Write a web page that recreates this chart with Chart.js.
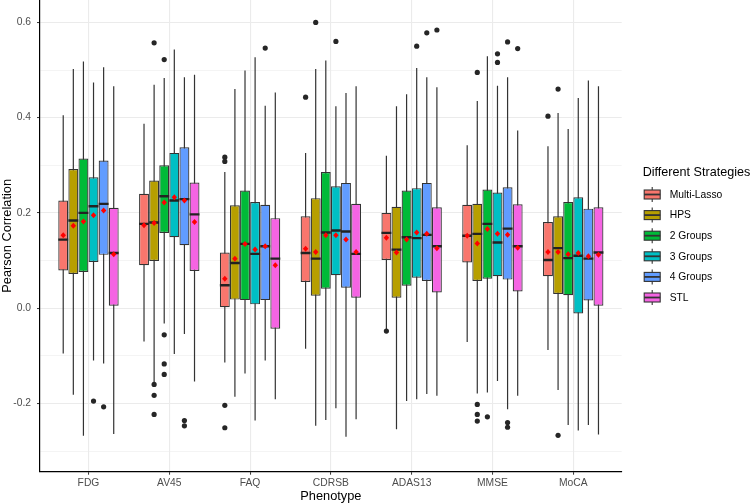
<!DOCTYPE html>
<html>
<head>
<meta charset="utf-8">
<script src="https://cdn.jsdelivr.net/npm/chart.js@4.4.1/dist/chart.umd.min.js"></script>
<style>
  html, body { margin: 0; padding: 0; background: #fff; }
</style>
</head>
<body>
<canvas id="chart" width="754" height="504"></canvas>
<script>
const phenotypes = ['FDG', 'AV45', 'FAQ', 'CDRSB', 'ADAS13', 'MMSE', 'MoCA']
const strategies = ['Multi-Lasso', 'HPS', '2 Groups', '3 Groups', '4 Groups', 'STL']
const colors = ['#F8766D', '#B79F00', '#00BA38', '#00BFC4', '#619CFF', '#F564E3']

// one row per strategy, one value per phenotype
const q1 = [
    [0.079, 0.090, 0.002, 0.055, 0.101, 0.096, 0.067],
    [0.072, 0.099, 0.018, 0.026, 0.022, 0.057, 0.030],
    [0.076, 0.158, 0.017, 0.041, 0.047, 0.062, 0.027],
    [0.097, 0.149, 0.008, 0.069, 0.064, 0.067, -0.011],
    [0.112, 0.132, 0.017, 0.043, 0.057, 0.060, 0.016],
    [0.005, 0.078, -0.043, 0.022, 0.033, 0.035, 0.005]
]
const medians = [
    [0.144, 0.177, 0.048, 0.116, 0.158, 0.152, 0.101],
    [0.184, 0.180, 0.095, 0.104, 0.123, 0.156, 0.126],
    [0.200, 0.235, 0.135, 0.159, 0.149, 0.177, 0.105],
    [0.214, 0.226, 0.114, 0.163, 0.147, 0.138, 0.110],
    [0.219, 0.229, 0.130, 0.161, 0.154, 0.167, 0.104],
    [0.116, 0.197, 0.104, 0.114, 0.130, 0.130, 0.117]
]
const q3 = [
    [0.226, 0.240, 0.117, 0.193, 0.200, 0.217, 0.181],
    [0.292, 0.268, 0.216, 0.231, 0.213, 0.219, 0.193],
    [0.314, 0.300, 0.247, 0.286, 0.247, 0.249, 0.223],
    [0.275, 0.326, 0.223, 0.256, 0.252, 0.243, 0.233],
    [0.310, 0.338, 0.217, 0.263, 0.263, 0.254, 0.209],
    [0.211, 0.264, 0.189, 0.219, 0.212, 0.218, 0.212]
]
const lowerWhisker = [
    [-0.095, -0.070, -0.114, -0.085, -0.044, -0.071, -0.088],
    [-0.182, -0.155, -0.186, -0.247, -0.254, -0.179, -0.172],
    [-0.268, -0.032, -0.137, -0.235, -0.195, -0.177, -0.245],
    [-0.110, -0.096, -0.236, -0.210, -0.191, -0.153, -0.257],
    [-0.116, -0.054, -0.110, -0.270, -0.180, -0.212, -0.245],
    [-0.264, -0.154, -0.191, -0.233, -0.184, -0.184, -0.265]
]
const upperWhisker = [
    [0.405, 0.387, 0.286, 0.326, 0.320, 0.342, 0.340],
    [0.502, 0.469, 0.460, 0.502, 0.424, 0.435, 0.410],
    [0.518, 0.483, 0.499, 0.520, 0.449, 0.529, 0.376],
    [0.474, 0.543, 0.527, 0.424, 0.504, 0.467, 0.441],
    [0.506, 0.485, 0.425, 0.452, 0.485, 0.485, 0.478],
    [0.466, 0.490, 0.453, 0.466, 0.464, 0.373, 0.466]
]
const means = [
    [0.153, 0.174, 0.062, 0.125, 0.148, 0.152, 0.118],
    [0.173, 0.179, 0.104, 0.118, 0.117, 0.136, 0.118],
    [0.182, 0.222, 0.135, 0.153, 0.144, 0.166, 0.113],
    [0.195, 0.233, 0.123, 0.153, 0.159, 0.156, 0.116],
    [0.205, 0.226, 0.130, 0.144, 0.156, 0.154, 0.109],
    [0.113, 0.181, 0.090, 0.118, 0.126, 0.127, 0.112]
]
const outliers = [
    [[], [], [0.317, 0.308, -0.204, -0.251], [0.443], [-0.048], [], [0.403]],
    [[], [0.557, -0.160, -0.183, -0.223], [], [0.600], [], [0.495, -0.202, -0.223, -0.237], [0.460, -0.267]],
    [[], [0.522, -0.056, -0.117, -0.139], [], [], [], [-0.228], []],
    [[-0.195], [], [], [0.560], [0.550], [0.534, 0.516], []],
    [[-0.207], [-0.236, -0.247], [0.546], [], [0.578], [0.559, -0.240, -0.250], []],
    [[], [], [], [], [0.584], [0.545], []]
]

const yMajor = [-0.2, 0, 0.2, 0.4, 0.6]
const yMajorLabels = ['-0.2', '0.0', '0.2', '0.4', '0.6']
const yMinor = [-0.3, -0.1, 0.1, 0.3, 0.5]

const FONT = '"Liberation Sans", Arial, sans-serif'
const INK = '#333333'

// whiskers behind the boxes, medians / outliers / means on top
const boxExtras = {
    id: 'boxExtras',
    beforeDatasetsDraw(chart) {
        const { ctx, chartArea, scales: { y } } = chart
        ctx.save()
        ctx.beginPath()
        ctx.rect(chartArea.left, chartArea.top, chartArea.width, chartArea.height)
        ctx.clip()
        ctx.strokeStyle = INK
        ctx.lineWidth = 1.2
        chart.data.datasets.forEach((ds, s) => {
            chart.getDatasetMeta(s).data.forEach((bar, i) => {
                ctx.beginPath()
                ctx.moveTo(bar.x, y.getPixelForValue(upperWhisker[s][i]))
                ctx.lineTo(bar.x, y.getPixelForValue(lowerWhisker[s][i]))
                ctx.stroke()
            })
        })
        ctx.restore()
    },
    afterDatasetsDraw(chart) {
        const { ctx, chartArea, scales: { y } } = chart
        ctx.save()
        ctx.beginPath()
        ctx.rect(chartArea.left, chartArea.top, chartArea.width, chartArea.height)
        ctx.clip()
        chart.data.datasets.forEach((ds, s) => {
            chart.getDatasetMeta(s).data.forEach((bar, i) => {
                const half = bar.width / 2
                // median
                ctx.strokeStyle = '#222'
                ctx.lineWidth = 2.4
                ctx.beginPath()
                const my = y.getPixelForValue(medians[s][i])
                ctx.moveTo(bar.x - half, my)
                ctx.lineTo(bar.x + half, my)
                ctx.stroke()
                // outliers
                ctx.fillStyle = '#262626'
                outliers[s][i].forEach(v => {
                    ctx.beginPath()
                    ctx.arc(bar.x, y.getPixelForValue(v), 2.6, 0, Math.PI * 2)
                    ctx.fill()
                })
                // mean
                const py = y.getPixelForValue(means[s][i])
                ctx.fillStyle = '#FF0000'
                ctx.beginPath()
                ctx.moveTo(bar.x, py - 3)
                ctx.lineTo(bar.x + 2.7, py)
                ctx.lineTo(bar.x, py + 3)
                ctx.lineTo(bar.x - 2.7, py)
                ctx.closePath()
                ctx.fill()
            })
        })
        ctx.restore()
    },
    afterDraw(chart) {
        // ggplot-style legend with boxplot keys
        const { ctx, chartArea } = chart
        const x0 = chartArea.right + 21
        ctx.save()
        ctx.fillStyle = '#000'
        ctx.textBaseline = 'middle'
        ctx.textAlign = 'left'
        ctx.font = '12.6px ' + FONT
        ctx.fillText('Different Strategies', x0, 173)
        ctx.font = '10.3px ' + FONT
        strategies.forEach((name, s) => {
            const cy = 194.5 + s * 20.6
            const kx = x0 + 1.5
            ctx.strokeStyle = INK
            ctx.lineWidth = 1.1
            ctx.beginPath()
            ctx.moveTo(kx + 8, cy - 7.5)
            ctx.lineTo(kx + 8, cy + 7.5)
            ctx.stroke()
            ctx.fillStyle = colors[s]
            ctx.fillRect(kx, cy - 4.5, 16, 9)
            ctx.strokeRect(kx, cy - 4.5, 16, 9)
            ctx.lineWidth = 1.8
            ctx.beginPath()
            ctx.moveTo(kx, cy)
            ctx.lineTo(kx + 16, cy)
            ctx.stroke()
            ctx.fillStyle = '#000'
            ctx.fillText(name, x0 + 27, cy + 0.5)
        })
        ctx.restore()
    }
}

const datasets = strategies.map((name, s) => ({
    label: name,
    data: phenotypes.map((p, i) => ({ x: i + 1, y: [q1[s][i], q3[s][i]] })),
    backgroundColor: colors[s],
    borderColor: INK,
    borderWidth: 1.2,
    borderSkipped: false,
    categoryPercentage: 0.75,
    barPercentage: 0.98
}))

new Chart(document.getElementById('chart'), {
    type: 'bar',
    data: { datasets },
    plugins: [boxExtras],
    options: {
        responsive: false,
        animation: false,
        events: [],
        layout: { padding: { left: 0, right: 132.3, top: 0, bottom: 0 } },
        plugins: { legend: { display: false }, tooltip: { enabled: false } },
        scales: {
            x: {
                type: 'linear',
                min: 0.4,
                max: 7.6,
                bounds: 'data',
                offset: false,
                afterBuildTicks: ax => { ax.ticks = phenotypes.map((p, i) => ({ value: i + 1 })) },
                afterFit: ax => { ax.height = 32.3; ax.paddingLeft = 0; ax.paddingRight = 0 },
                grid: { offset: false, color: '#EBEBEB', lineWidth: 1.1, drawTicks: true, tickLength: 3, tickColor: INK, tickWidth: 1 },
                border: { display: true, color: '#000', width: 1.2 },
                ticks: {
                    autoSkip: false, maxRotation: 0, padding: 2,
                    color: '#4D4D4D', font: { family: FONT, size: 10.3 },
                    callback: (v, i) => phenotypes[i]
                },
                title: { display: true, text: 'Phenotype', color: '#000', font: { family: FONT, size: 12.8 }, padding: 0 }
            },
            y: {
                min: -0.3433,
                max: 0.647,
                bounds: 'data',
                afterBuildTicks: ax => { ax.ticks = yMinor.concat(yMajor).sort((a, b) => a - b).map(v => ({ value: v })) },
                afterFit: ax => { ax.width = 40; ax.paddingTop = 0; ax.paddingBottom = 0 },
                grid: {
                    color: '#EBEBEB',
                    lineWidth: c => (yMajor.includes(c.tick && c.tick.value) ? 1.1 : 0.55),
                    drawTicks: true, tickLength: 3, tickWidth: 1,
                    tickColor: c => (yMajor.includes(c.tick && c.tick.value) ? INK : 'rgba(0,0,0,0)')
                },
                border: { display: true, color: '#000', width: 1.2 },
                ticks: {
                    autoSkip: false, padding: 6,
                    color: '#4D4D4D', font: { family: FONT, size: 10.3 },
                    callback: v => {
                        const k = yMajor.indexOf(v)
                        return k >= 0 ? yMajorLabels[k] : ''
                    }
                },
                title: { display: true, text: 'Pearson Correlation', color: '#000', font: { family: FONT, size: 12.8 }, padding: 0 }
            }
        }
    }
})
</script>
</body>
</html>
